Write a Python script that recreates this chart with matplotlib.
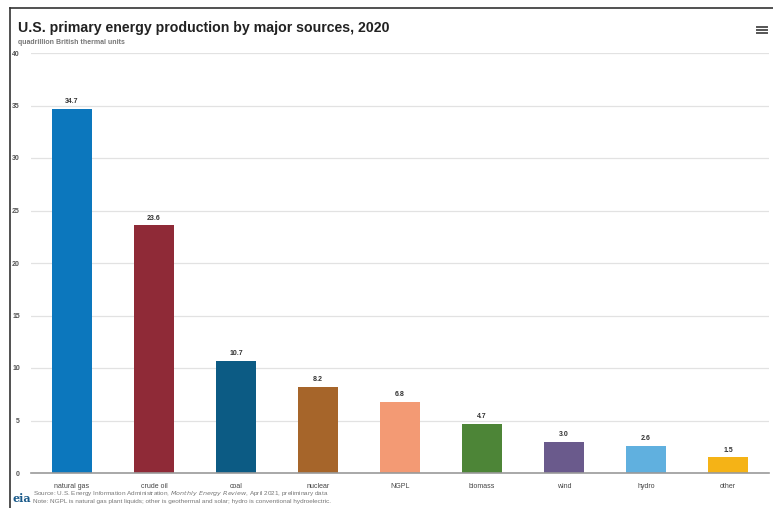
import matplotlib.pyplot as plt
import numpy as np

plt.rcParams['font.family'] = ['Liberation Sans', 'DejaVu Sans']

sources = ["natural gas", "crude oil", "coal", "nuclear", "NGPL",
           "biomass", "wind", "hydro", "other"]
values = [34.7, 23.6, 10.7, 8.2, 6.8, 4.7, 3.0, 2.6, 1.5]
labels = ["34.7", "23.6", "10.7", "8.2", "6.8", "4.7", "3.0", "2.6", "1.5"]
colors = ["#0c77bd", "#8f2a37", "#0c5b84", "#a6652a", "#f39a74",
          "#4d8537", "#6a5a8c", "#60b0df", "#f5b316"]
yticks = [0, 5, 10, 15, 20, 25, 30, 35, 40]

fig = plt.figure(figsize=(7.73, 5.08), dpi=100)
W, H = 773, 508
ax = fig.add_axes([31 / W, 1 - 473 / H, 738 / W, (473 - 53) / H])

x = np.arange(len(sources))
ax.bar(x, values, width=0.49, color=colors, zorder=3)
for xi, v, lab in zip(x, values, labels):
    ax.text(xi, v + 0.35, lab, ha="center", va="bottom", fontsize=5,
            fontweight="bold", color="#333333")

ax.set_xlim(-0.5, len(sources) - 0.5)
ax.set_ylim(0, 40)
ax.set_yticks(yticks)
ax.set_yticklabels([str(t) for t in yticks], fontsize=5, color="#555555",
                   fontweight="bold")
ax.set_xticks(x)
ax.set_xticklabels(sources, fontsize=5, color="#444444")
ax.tick_params(axis="x", length=0, pad=7)
ax.tick_params(axis="y", length=0, pad=8)
ax.grid(axis="y", color="#e2e2e2", linewidth=0.9, zorder=0)
for s in ["top", "right", "left"]:
    ax.spines[s].set_visible(False)
ax.spines["bottom"].set_color("#9a9a9a")
ax.spines["bottom"].set_linewidth(1.2)
ax.spines["bottom"].set_zorder(4)

# frame of the screenshot
fig.add_artist(plt.Line2D([10 / W, 10 / W], [0, 1 - 8 / H],
                          color="#333333", linewidth=1.2))
fig.add_artist(plt.Line2D([10 / W, 1], [1 - 8 / H, 1 - 8 / H],
                          color="#333333", linewidth=1.2))

fig.text(18 / W, 1 - 28 / H, "U.S. primary energy production by major sources, 2020",
         fontsize=10.2, fontweight="bold", color="#222222", va="center")
fig.text(18 / W, 1 - 43 / H, "quadrillion British thermal units",
         fontsize=5, fontweight="bold", color="#777777", va="center")

# menu icon
for dy in (-3, 0, 3):
    fig.add_artist(plt.Line2D([757 / W, 767 / W],
                              [1 - (30 + dy) / H, 1 - (30 + dy) / H],
                              color="#555555", linewidth=1.4))

fig.text(13 / W, 1 - 498 / H, "eia", fontsize=8, color="#1a5a8a",
         fontweight="bold", va="center", family="serif")
fig.text(33 / W, 1 - 493 / H,
         "Source: U.S. Energy Information Administration, $\\it{Monthly\\ Energy\\ Review}$, April 2021, preliminary data",
         fontsize=4.6, color="#777777", va="center")
fig.text(33 / W, 1 - 502 / H,
         "Note: NGPL is natural gas plant liquids; other is geothermal and solar; hydro is conventional hydroelectric.",
         fontsize=4.6, color="#777777", va="center")

fig.savefig("out.png", dpi=100, facecolor="white")
